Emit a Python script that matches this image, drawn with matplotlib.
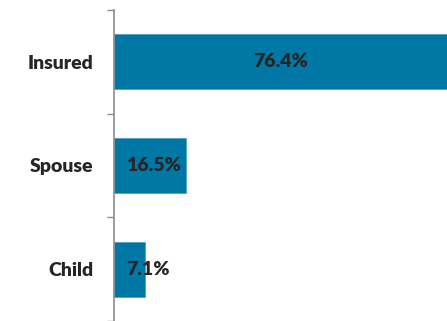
import matplotlib
matplotlib.use('Agg')
import matplotlib.pyplot as plt

categories = ['Insured', 'Spouse', 'Child']
shares = [76.4, 16.5, 7.1]
value_labels = ['76.4%', '16.5%', '7.1%']

plt.rcParams['font.family'] = ['Lato', 'DejaVu Sans']

fig = plt.figure(figsize=(4.47, 3.21), dpi=100)
ax = fig.add_axes([0.255, 0.0, 0.745, 0.969])

pos = list(range(len(categories)))
ax.barh(pos, shares, height=0.53, color='#0077A4', edgecolor='#4FA3C4', linewidth=0.6)

# labels: centered in the long bar, near the base for short ones
for p, v, lab in zip(pos, shares, value_labels):
    if v > 30:
        ax.text(v / 2, p, lab, ha='center', va='center', fontsize=14,
                fontweight='heavy', color='#262626')
    else:
        ax.text(2.8, p, lab, ha='left', va='center', fontsize=14,
                fontweight='heavy', color='#262626')

ax.set_xlim(0, 76.4)
ax.set_ylim(2.5, -0.5)
ax.set_yticks(pos)
ax.set_yticklabels(categories, fontsize=14, fontweight='heavy', color='#262626')
ax.set_yticks([-0.5, 0.5, 1.5, 2.5], minor=True)
ax.tick_params(axis='y', which='major', length=0, pad=15)
ax.tick_params(axis='y', which='minor', length=5, color='#8C8C8C', width=1)
ax.set_xticks([])
for s in ['top', 'right', 'bottom']:
    ax.spines[s].set_visible(False)
ax.spines['left'].set_color('#8C8C8C')
ax.spines['left'].set_linewidth(1.2)

fig.savefig('out.png', dpi=100)
